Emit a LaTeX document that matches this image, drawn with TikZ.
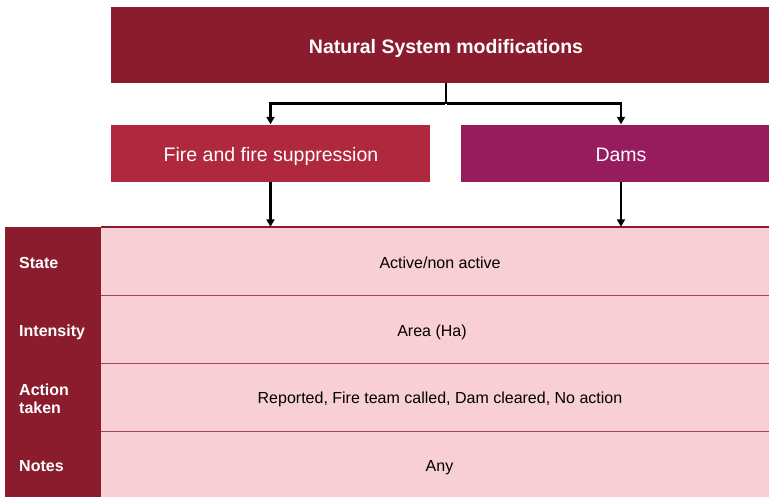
\documentclass[tikz,border=0pt]{standalone}
\usepackage{fontspec}
\setmainfont{Liberation Sans}
\usetikzlibrary{arrows.meta}

\definecolor{wine}{RGB}{138,28,46}
\definecolor{firered}{RGB}{176,40,62}
\definecolor{plum}{RGB}{150,28,94}
\definecolor{blush}{RGB}{248,207,213}
\definecolor{rule}{RGB}{160,70,86}

\tikzset{
  headbox/.style={rectangle, inner sep=0pt},
  caption/.style={anchor=base, inner sep=0pt, text=white},
  rowbox/.style={rectangle, fill=blush, inner sep=0pt, minimum width=676pt, minimum height=68pt},
  rowlabel/.style={anchor=base west, inner sep=0pt, text=white, align=left,
    font=\bfseries\fontsize{16}{18.5}\selectfont},
  rowvalue/.style={anchor=base, inner sep=0pt, font=\fontsize{16}{19}\selectfont},
  link/.style={line width=2.2pt, draw=black},
  linkarrow/.style={link, -{Triangle[length=7.5pt,width=8pt]}},
  sep/.style={draw=rule, line width=1.4pt}
}

\begin{document}
\begin{tikzpicture}[x=1pt,y=-1pt]
\useasboundingbox (0,0) rectangle (769,496);
\clip (0,0) rectangle (769,496);

% heading and the two categories
\node[headbox, fill=wine, minimum width=670pt, minimum height=76pt] (top) at (446,45) {};
\node[headbox, fill=firered, minimum width=319pt, minimum height=57pt] (fire) at (270.5,153) {};
\node[headbox, fill=plum, minimum width=320pt, minimum height=57pt] (dams) at (621,153) {};

\node[caption, font=\bfseries\fontsize{19.5}{23}\selectfont] (ttop) at (446,53.3) {Natural System modifications};
\node[caption, font=\fontsize{19.5}{23}\selectfont] (tfire) at (271,161.7) {Fire and fire suppression};
\node[caption, font=\fontsize{19.5}{23}\selectfont] (tdams) at (621,161.7) {Dams};

% attribute table
\fill[wine] (5,227) rectangle (101,500);
\node[rowbox] (r1) at (439,261) {};
\node[rowbox] (r2) at (439,329) {};
\node[rowbox] (r3) at (439,397) {};
\node[rowbox] (r4) at (439,465) {};

\draw[draw=wine, line width=1.4pt] (r1.north west) -- (r1.north east);
\draw[sep] (r1.south west) -- (r1.south east);
\draw[sep] (r2.south west) -- (r2.south east);
\draw[sep] (r3.south west) -- (r3.south east);

\node[rowlabel] (l1) at (19,268.3) {State};
\node[rowlabel] (l2) at (19,336.7) {Intensity};
\node[rowlabel, anchor=west] (l3) at (19,399) {Action\\taken};
\node[rowlabel] (l4) at (19,471.7) {Notes};

\node[rowvalue] (v1) at (440,268.3) {Active/non active};
\node[rowvalue] (v2) at (432,336.7) {Area (Ha)};
\node[rowvalue] (v3) at (440,403.3) {Reported, Fire team called, Dam cleared, No action};
\node[rowvalue] (v4) at (439.5,471.7) {Any};

% connectors
\coordinate (split) at (446,103.5);
\draw[link] (top.south) -- (split);
\draw[linkarrow] ([xshift=-1.1pt]split) -| (fire.north);
\draw[linkarrow] ([xshift=1.1pt]split) -| (dams.north);
\draw[linkarrow] (fire.south) -- (fire.south |- r1.north);
\draw[linkarrow] (dams.south) -- (dams.south |- r1.north);
\end{tikzpicture}
\end{document}
